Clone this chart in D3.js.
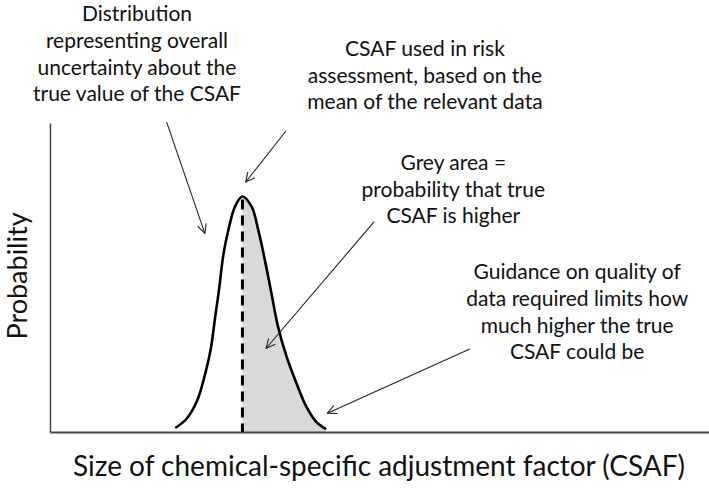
<html>
<head>
<script src="https://d3js.org/d3.v7.min.js"></script>
<style>
  body { margin: 0; background: #fff; }
  text { font-family: Lato, "Open Sans", sans-serif; fill: #111; }
</style>
</head>
<body>
<div id="chart-container"></div>
<script>
// Distribution curve (x = CSAF size, arbitrary units; p = probability density)
const curveX = [19.0, 20.7, 22.3, 23.5, 24.4, 25.0, 25.7, 26.3, 27.1, 28.1, 29.2,
                30.6, 31.6, 32.6, 33.6, 34.6, 35.9, 37.4, 38.9, 40.4, 41.9];
const curveP = [0.013, 0.042, 0.100, 0.184, 0.269, 0.362, 0.469, 0.573, 0.657, 0.731, 0.762,
                0.729, 0.654, 0.557, 0.449, 0.341, 0.244, 0.158, 0.082, 0.033, 0.009];
const meanCSAF = 29.2;

// Annotation texts and where they sit (in data units)
const noteLines = [
  ["Distribution", "representing overall", "uncertainty about the", "true value of the CSAF"],
  ["CSAF used in risk", "assessment, based on the", "mean of the relevant data"],
  ["Grey area =", "probability that true", "CSAF is higher"],
  ["Guidance on quality of", "data required limits how", "much higher the true", "CSAF could be"]
];
const noteX = [13.2, 56.9, 61.2, 80.0];
const noteY = [1.329, 1.217, 0.848, 0.494];

// Arrows: from (x1,y1) to (x2,y2), data units
const arrowX1 = [17.7, 35.8, 49.2, 63.7];
const arrowY1 = [1.003, 0.974, 0.681, 0.269];
const arrowX2 = [23.5, 29.7, 32.8, 42.1];
const arrowY2 = [0.643, 0.809, 0.271, 0.061];

const xLabel = "Size of chemical-specific adjustment factor (CSAF)";
const yLabel = "Probability";

const width = 709, height = 496;
const margin = {left: 50, right: 0, top: 123, bottom: 64};

const x = d3.scaleLinear().domain([0, 100]).range([margin.left, width - margin.right]);
const y = d3.scaleLinear().domain([0, 1]).range([height - margin.bottom, margin.top]);

const svg = d3.select("#chart-container").append("svg")
  .attr("width", width)
  .attr("height", height);

svg.append("defs").append("marker")
  .attr("id", "head")
  .attr("viewBox", "-10 -6 12 12")
  .attr("refX", 0).attr("refY", 0)
  .attr("markerWidth", 12).attr("markerHeight", 12)
  .attr("markerUnits", "userSpaceOnUse")
  .attr("orient", "auto")
  .append("path")
  .attr("d", "M-9,-4.5L0,0L-9,4.5")
  .attr("fill", "none")
  .attr("stroke", "#222")
  .attr("stroke-width", 1.1);

const pts = curveX.map((d, i) => ({x: d, p: curveP[i]}));
const peakIdx = curveX.indexOf(meanCSAF);

// grey area right of the mean
const area = d3.area()
  .x(d => x(d.x))
  .y0(y(0))
  .y1(d => y(d.p))
  .curve(d3.curveCatmullRom);

svg.append("path")
  .datum(pts.slice(peakIdx))
  .attr("fill", "#d9d9d9")
  .attr("d", area);

// axes with no ticks
svg.append("g")
  .attr("transform", `translate(0,${y(0)})`)
  .call(d3.axisBottom(x).tickValues([]).tickSizeOuter(0))
  .select(".domain").attr("stroke", "#444").attr("stroke-width", 2);

svg.append("g")
  .attr("transform", `translate(${x(0)},0)`)
  .call(d3.axisLeft(y).tickValues([]).tickSizeOuter(0))
  .select(".domain").attr("stroke", "#444").attr("stroke-width", 1.5);

// distribution curve
const line = d3.line()
  .x(d => x(d.x))
  .y(d => y(d.p))
  .curve(d3.curveCatmullRom);

svg.append("path")
  .datum(pts)
  .attr("fill", "none")
  .attr("stroke", "#000")
  .attr("stroke-width", 2.6)
  .attr("d", line);

// dashed mean line
svg.append("line")
  .attr("x1", x(meanCSAF)).attr("x2", x(meanCSAF))
  .attr("y1", y(curveP[peakIdx]) + 3).attr("y2", y(0))
  .attr("stroke", "#000")
  .attr("stroke-width", 3)
  .attr("stroke-dasharray", "10,6");

// arrows
svg.selectAll("line.arrow")
  .data(arrowX1)
  .enter().append("line")
  .attr("class", "arrow")
  .attr("x1", (d, i) => x(d))
  .attr("y1", (d, i) => y(arrowY1[i]))
  .attr("x2", (d, i) => x(arrowX2[i]))
  .attr("y2", (d, i) => y(arrowY2[i]))
  .attr("stroke", "#222")
  .attr("stroke-width", 1.1)
  .attr("marker-end", "url(#head)");

// annotation texts
noteLines.forEach((lines, i) => {
  const t = svg.append("text")
    .attr("text-anchor", "middle")
    .attr("font-size", 21);
  lines.forEach((s, j) => {
    t.append("tspan")
      .attr("x", x(noteX[i]))
      .attr("y", y(noteY[i]) + j * 26.7)
      .text(s);
  });
});

// axis labels
svg.append("text")
  .attr("x", 379)
  .attr("y", 476)
  .attr("text-anchor", "middle")
  .attr("font-size", 28)
  .text(xLabel);

svg.append("text")
  .attr("transform", `translate(27,${276}) rotate(-90)`)
  .attr("text-anchor", "middle")
  .attr("font-size", 27)
  .text(yLabel);
</script>
</body>
</html>
